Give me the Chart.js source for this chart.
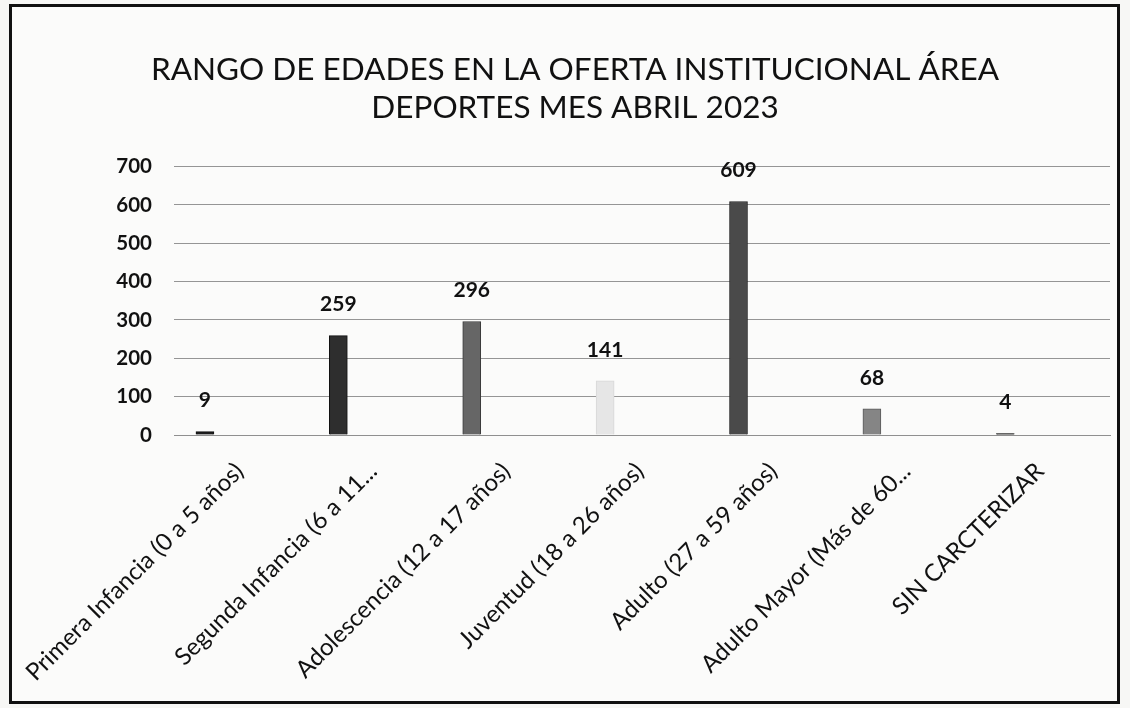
<!DOCTYPE html>
<html>
<head>
<meta charset="utf-8">
<script src="https://cdn.jsdelivr.net/npm/chart.js@4"></script>
<style>
  html, body { margin: 0; padding: 0; background: #f7f7f5; }
  #frame {
    position: absolute; left: 9px; top: 4px; width: 1105px; height: 694px;
    border: 3px solid #111; background: #fbfbfa;
  }
  #wrap { position: absolute; left: 0; top: 0; width: 1130px; height: 708px; }
</style>
</head>
<body>
<div id="frame"></div>
<div id="wrap"><canvas id="chart"></canvas></div>
<script>
// Chart data
const categories = [
  "Primera Infancia (0 a 5 años)",
  "Segunda Infancia (6 a 11...",
  "Adolescencia (12 a 17 años)",
  "Juventud (18 a 26 años)",
  "Adulto (27 a 59 años)",
  "Adulto Mayor (Más de 60...",
  "SIN CARCTERIZAR"
];
const values = [9, 259, 296, 141, 609, 68, 4];
const barColors = ["#1c1c1c", "#2e2e2e", "#666666", "#e6e6e6", "#4a4a4a", "#858585", "#222222"];
const barEdges = ["#111111", "#111111", "#3a3a3a", "#d8d8d8", "#222222", "#5a5a5a", "#111111"];
const yTicks = [0, 100, 200, 300, 400, 500, 600, 700];

const fontFamily = "Lato, 'Open Sans', sans-serif";

// Draw value labels above each bar
const valueLabels = {
  id: "valueLabels",
  afterDatasetsDraw(chart) {
    const ctx = chart.ctx;
    const meta = chart.getDatasetMeta(0);
    ctx.save();
    ctx.font = "bold 21px " + fontFamily;
    ctx.fillStyle = "#111";
    ctx.textAlign = "center";
    ctx.textBaseline = "middle";
    meta.data.forEach((bar, i) => {
      ctx.fillText(String(values[i]), bar.x, bar.y - 31);
    });
    ctx.restore();
  }
};

new Chart(document.getElementById("chart"), {
  type: "bar",
  data: {
    datasets: [{
      data: values.map((v, i) => ({ x: i, y: v })),
      backgroundColor: barColors,
      borderColor: barEdges,
      borderWidth: 1,
      barThickness: 18
    }]
  },
  options: {
    responsive: true,
    maintainAspectRatio: false,
    animation: false,
    layout: { padding: { left: 40, right: 20, top: 36, bottom: 20 } },
    plugins: {
      legend: { display: false },
      tooltip: { enabled: false },
      title: {
        display: true,
        text: ["RANGO DE EDADES EN LA OFERTA INSTITUCIONAL ÁREA", "DEPORTES MES ABRIL 2023"],
        color: "#111",
        font: { family: fontFamily, size: 31.5, weight: "normal", lineHeight: 1.2 },
        padding: { top: 15, bottom: 40 }
      }
    },
    scales: {
      x: {
        type: "linear",
        offset: false,
        min: -0.232,
        max: 6.785,
        afterBuildTicks(axis) { axis.ticks = categories.map((c, i) => ({ value: i + 0.26 })); },
        afterFit(axis) { axis.height = 253; },
        grid: { display: false },
        border: { color: "#8f8f8f", width: 1 },
        ticks: {
          color: "#111",
          font: { family: fontFamily, size: 24 },
          minRotation: 45,
          maxRotation: 45,
          autoSkip: false,
          padding: 14,
          callback: (v, i) => categories[i]
        }
      },
      y: {
        min: 0,
        max: 700,
        afterBuildTicks(axis) { axis.ticks = yTicks.map(v => ({ value: v })); },
        afterFit(axis) { axis.width = 134; },
        grid: { color: "#959595", lineWidth: 1, drawTicks: false },
        border: { display: false },
        ticks: {
          color: "#111",
          font: { family: fontFamily, size: 20.5, weight: "bold" },
          padding: 22
        }
      }
    }
  },
  plugins: [valueLabels]
});
</script>
</body>
</html>
